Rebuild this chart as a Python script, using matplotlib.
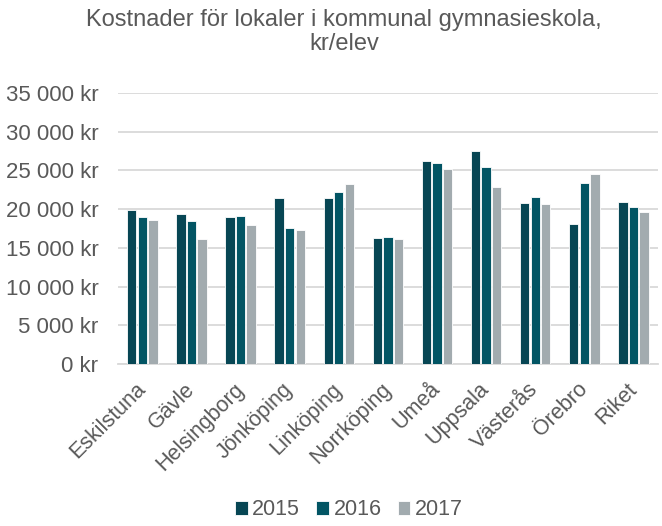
import matplotlib.pyplot as plt
import numpy as np
from matplotlib.ticker import FuncFormatter

plt.rcParams['font.family'] = ['Liberation Sans', 'DejaVu Sans']

kommuner = ['Eskilstuna', 'Gävle', 'Helsingborg', 'Jönköping', 'Linköping',
            'Norrköping', 'Umeå', 'Uppsala', 'Västerås', 'Örebro', 'Riket']
years = ['2015', '2016', '2017']
v2015 = [19950, 19400, 18950, 21500, 21450, 16300, 26200, 27500, 20800, 18100, 20950]
v2016 = [18950, 18500, 19150, 17600, 22200, 16450, 26000, 25450, 21600, 23400, 20300]
v2017 = [18600, 16100, 17900, 17300, 23200, 16200, 25200, 22900, 20700, 24500, 19600]
colors = ['#074654', '#025564', '#a2abaf']

text_color = '#595959'


def kr_format(value, pos):
    s = f"{int(value):,}".replace(',', ' ')
    return f"{s} kr"


fig = plt.figure(figsize=(6.62, 5.26), dpi=100)
ax = fig.add_axes([0.178, 0.308, 0.816, 0.515])

x = np.arange(len(kommuner))
width = 0.19
step = 0.215
for i, (vals, year) in enumerate(zip([v2015, v2016, v2017], years)):
    ax.bar(x + (i - 1) * step, vals, width=width, color=colors[i],
           edgecolor='white', linewidth=0.6, label=year, zorder=3)

ax.set_ylim(0, 35000)
ax.set_xlim(-0.5, len(kommuner) - 0.5)
ax.set_yticks(np.arange(0, 35001, 5000))
ax.yaxis.set_major_formatter(FuncFormatter(kr_format))
ax.grid(axis='y', color='#d9d9d9', linewidth=1.3, zorder=0)
for side in ['top', 'right', 'left']:
    ax.spines[side].set_visible(False)
ax.spines['bottom'].set_color('#d9d9d9')
ax.spines['bottom'].set_linewidth(1.3)
ax.tick_params(axis='both', length=0, colors=text_color)
ax.tick_params(axis='y', pad=14, labelsize=16)

ax.set_xticks(x)
ax.set_xticklabels(kommuner, rotation=45, ha='right', va='center',
                   rotation_mode='anchor', fontsize=15.5)
ax.tick_params(axis='x', pad=16)

fig.suptitle('Kostnader för lokaler i kommunal gymnasieskola,\nkr/elev',
             x=0.52, y=0.983, fontsize=17, color=text_color, linespacing=1.15)

leg = fig.legend(loc='lower center', bbox_to_anchor=(0.527, -0.018), ncol=3,
                 frameon=False, fontsize=15.5, handlelength=0.6,
                 handleheight=0.6, handletextpad=0.2, columnspacing=0.75,
                 borderpad=0.2)
for t in leg.get_texts():
    t.set_color(text_color)

fig.savefig('out.png', dpi=100)
